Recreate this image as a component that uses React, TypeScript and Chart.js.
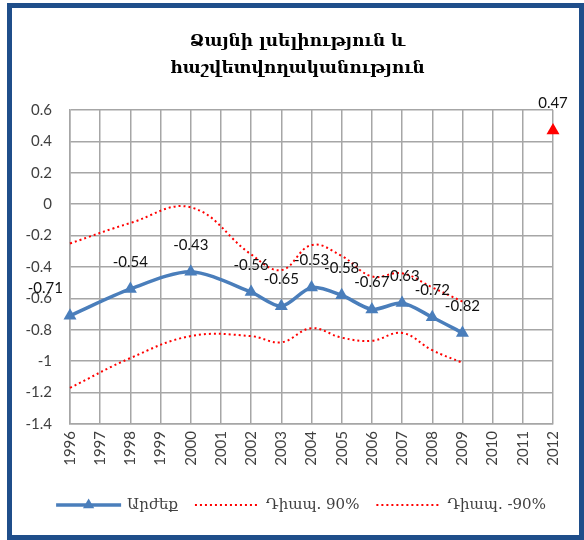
import React, { useEffect, useRef } from "react";
import { Chart, registerables } from "chart.js";

Chart.register(...registerables);

// ---- data ----
const years = ["1996", "1997", "1998", "1999", "2000", "2001", "2002", "2003", "2004", "2005", "2006", "2007", "2008", "2009", "2010", "2011", "2012"];
const values = [-0.71, null, -0.54, null, -0.43, null, -0.56, -0.65, -0.53, -0.58, -0.67, -0.63, -0.72, -0.82, null, null, null];
const upper90 = [-0.25, null, -0.12, null, -0.02, null, -0.32, -0.42, -0.26, -0.33, -0.46, -0.44, -0.53, -0.62, null, null, null];
const lower90 = [-1.17, null, -0.98, null, -0.84, null, -0.84, -0.88, -0.79, -0.85, -0.87, -0.82, -0.93, -1.01, null, null, null];
const target2012 = [null, null, null, null, null, null, null, null, null, null, null, null, null, null, null, null, 0.47];
const titleLines = ["Ձայնի լսելիություն և", "հաշվետվողականություն"];
const seriesNames = ["Արժեք", "Դիապ. 90%", "Դիապ. -90%"];
const yMin = -1.4;
const yMax = 0.6;
const yStep = 0.2;

const BLUE = "#4a7ebb";
const RED = "#ff0000";
const GRID = "#a6a6a6";
const SANS = "Lato, 'Open Sans', sans-serif";
const ARM = "'DejaVu Serif', serif";

const titlePlugin = {
  id: "customTitle",
  afterDraw(chart: any) {
    const ctx = chart.ctx;
    ctx.save();
    ctx.fillStyle = "#000";
    ctx.font = `bold 17px ${ARM}`;
    ctx.textAlign = "center";
    ctx.textBaseline = "middle";
    const cx = chart.width / 2 + 2;
    ctx.fillText(titleLines[0], cx, 34);
    ctx.fillText(titleLines[1], cx, 61);
    ctx.restore();
  },
};

const labelPlugin = {
  id: "pointLabels",
  afterDatasetsDraw(chart: any) {
    const ctx = chart.ctx;
    ctx.save();
    ctx.font = `15px ${SANS}`;
    ctx.fillStyle = "#111";
    ctx.textBaseline = "middle";
    chart.data.datasets.forEach((ds: any, i: number) => {
      if (!ds.showLabels) return;
      const meta = chart.getDatasetMeta(i);
      meta.data.forEach((pt: any, j: number) => {
        const v = ds.data[j];
        if (v === null || v === undefined) return;
        const txt = v.toFixed(2);
        if (pt.x <= chart.chartArea.left + 1) {
          ctx.textAlign = "right";
          ctx.fillText(txt, pt.x - 7, pt.y - 28);
        } else {
          ctx.textAlign = "center";
          ctx.fillText(txt, pt.x, pt.y - 27);
        }
      });
    });
    ctx.restore();
  },
};

const legendPlugin = {
  id: "customLegend",
  afterDraw(chart: any) {
    const ctx = chart.ctx;
    const items = chart.data.datasets.filter((d: any) => d.inLegend);
    const lineLen = 65;
    const gapText = 6;
    const gapItem = 17;
    ctx.save();
    ctx.font = `15px ${ARM}`;
    const widths = items.map((d: any) => ctx.measureText(d.label).width);
    const total = widths.reduce((a: number, w: number) => a + lineLen + gapText + w, 0) + gapItem * (items.length - 1);
    let x = 289 - total / 2;
    const y = 497;
    items.forEach((d: any, k: number) => {
      ctx.save();
      ctx.strokeStyle = d.borderColor;
      ctx.lineWidth = d.borderWidth;
      ctx.setLineDash(d.borderDash || []);
      ctx.beginPath();
      ctx.moveTo(x, y);
      ctx.lineTo(x + lineLen, y);
      ctx.stroke();
      ctx.restore();
      if (d.pointStyle === "triangle" && d.pointRadius > 0) {
        const r = 6.5;
        const cx = x + lineLen / 2;
        ctx.fillStyle = d.backgroundColor;
        ctx.beginPath();
        ctx.moveTo(cx, y - r);
        ctx.lineTo(cx + r * 0.866, y + r * 0.5);
        ctx.lineTo(cx - r * 0.866, y + r * 0.5);
        ctx.closePath();
        ctx.fill();
      }
      ctx.fillStyle = "#404040";
      ctx.textAlign = "left";
      ctx.textBaseline = "middle";
      ctx.fillText(d.label, x + lineLen + gapText, y);
      x += lineLen + gapText + widths[k] + gapItem;
    });
    ctx.restore();
  },
};

export default function App() {
  const ref = useRef<HTMLCanvasElement>(null);
  useEffect(() => {
    document.body.style.overflow = "hidden";
    const chart = new Chart(ref.current as HTMLCanvasElement, {
      type: "line",
      data: {
        labels: years,
        datasets: [
          {
            label: seriesNames[0],
            data: values,
            borderColor: BLUE,
            backgroundColor: BLUE,
            borderWidth: 3.5,
            pointStyle: "triangle",
            pointRadius: 7.5,
            pointBorderWidth: 0,
            tension: 0.28,
            spanGaps: true,
            showLabels: true,
            inLegend: true,
          } as any,
          {
            label: seriesNames[1],
            data: upper90,
            borderColor: RED,
            backgroundColor: RED,
            borderWidth: 2,
            borderDash: [2, 3],
            pointRadius: 0,
            tension: 0.4,
            spanGaps: true,
            inLegend: true,
          } as any,
          {
            label: seriesNames[2],
            data: lower90,
            borderColor: RED,
            backgroundColor: RED,
            borderWidth: 2,
            borderDash: [2, 3],
            pointRadius: 0,
            tension: 0.4,
            spanGaps: true,
            inLegend: true,
          } as any,
          {
            label: "2012",
            data: target2012,
            borderColor: RED,
            backgroundColor: RED,
            pointStyle: "triangle",
            pointRadius: 7.5,
            pointBorderWidth: 0,
            showLine: false,
            clip: false,
            showLabels: true,
            inLegend: false,
          } as any,
        ],
      },
      options: {
        animation: false,
        responsive: false,
        events: [],
        layout: { padding: { top: 102, right: 26, bottom: 51, left: 0 } },
        plugins: {
          legend: { display: false },
          title: { display: false },
          tooltip: { enabled: false },
        },
        scales: {
          x: {
            offset: false,
            grid: { color: GRID, lineWidth: 1.5, drawTicks: false },
            border: { color: GRID, width: 1.5 },
            ticks: {
              autoSkip: false,
              minRotation: 90,
              maxRotation: 90,
              padding: 7,
              color: "#404040",
              font: { family: SANS, size: 15 },
            },
            afterFit: (s: any) => {
              s.height = 60;
            },
          },
          y: {
            min: yMin,
            max: yMax,
            grid: { color: GRID, lineWidth: 1.5, drawTicks: false },
            border: { color: GRID, width: 1.5 },
            ticks: {
              stepSize: yStep,
              padding: 18,
              color: "#404040",
              font: { family: SANS, size: 15 },
              callback: (v: any) => String(Math.round(Number(v) * 10) / 10),
            },
            afterFit: (s: any) => {
              s.width = 58;
            },
          },
        },
      } as any,
      plugins: [titlePlugin, labelPlugin, legendPlugin],
    });
    return () => chart.destroy();
  }, []);

  return (
    <div
      style={{
        position: "absolute",
        left: 7,
        top: 3,
        width: 577,
        height: 537,
        boxSizing: "border-box",
        border: "5px solid #1f4e8a",
        background: "#fff",
      }}
    >
      <canvas ref={ref} width={567} height={527} style={{ display: "block" }} />
    </div>
  );
}
